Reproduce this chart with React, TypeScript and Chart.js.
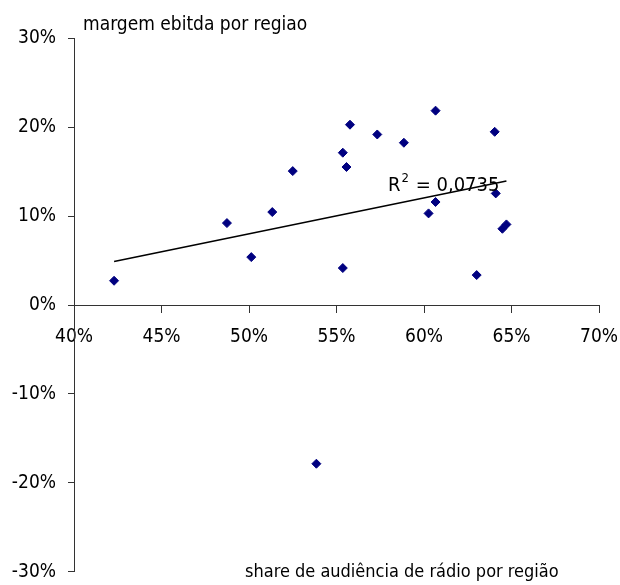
import React, { useEffect, useRef } from "react";
import { Chart, registerables } from "chart.js";

Chart.register(...registerables);

// share de audiência de rádio por região (%)
const shareAudiencia: number[] = [
  42.29, 48.74, 50.13, 51.33, 52.5, 53.85, 55.36, 55.57, 55.77, 55.36,
  57.33, 58.85, 60.66, 60.66, 60.26, 63.01, 64.04, 64.1, 64.48, 64.71,
];
// margem ebitda por região (%)
const margemEbitda: number[] = [
  2.74, 9.23, 5.4, 10.47, 15.08, -17.85, 17.15, 15.54, 20.3, 4.17,
  19.2, 18.27, 21.88, 11.6, 10.32, 3.38, 19.5, 12.57, 8.59, 9.08,
];

const xTicks: number[] = [40, 45, 50, 55, 60, 65, 70];
const yTicks: number[] = [-30, -20, -10, 0, 10, 20, 30];
const r2Text = "0,0735";

const yTitle = "margem ebitda por regiao";
const xTitle = "share de audiência de rádio por região";

const FONT = "'DejaVu Sans Condensed', 'DejaVu Sans', sans-serif";
const FONT_SIZE = 19;

function regression(xs: number[], ys: number[]) {
  const n = xs.length;
  const mx = xs.reduce((a, b) => a + b, 0) / n;
  const my = ys.reduce((a, b) => a + b, 0) / n;
  let sxy = 0;
  let sxx = 0;
  for (let i = 0; i < n; i++) {
    sxy += (xs[i] - mx) * (ys[i] - my);
    sxx += (xs[i] - mx) * (xs[i] - mx);
  }
  const b = sxy / sxx;
  const a = my - b * mx;
  return { a, b };
}

const zeroPad = (s: any) => {
  s.paddingLeft = 0;
  s.paddingRight = 0;
  s.paddingTop = 0;
  s.paddingBottom = 0;
};

export default function App() {
  const ref = useRef<HTMLCanvasElement | null>(null);

  useEffect(() => {
    if (!ref.current) return;
    const points = shareAudiencia.map((x, i) => ({ x, y: margemEbitda[i] }));
    const { a, b } = regression(shareAudiencia, margemEbitda);
    const minX = Math.min(...shareAudiencia);
    const maxX = Math.max(...shareAudiencia);
    const trend = [
      { x: minX, y: a + b * minX },
      { x: maxX, y: a + b * maxX },
    ];

    const textPlugin = {
      id: "texts",
      afterDraw(chart: any) {
        const ctx = chart.ctx;
        const ca = chart.chartArea;
        ctx.save();
        ctx.fillStyle = "#000";
        ctx.textBaseline = "alphabetic";
        ctx.textAlign = "left";
        ctx.font = `${FONT_SIZE}px ${FONT}`;
        ctx.fillText(yTitle, ca.left + 9, ca.top - 8.5);
        ctx.font = `18px ${FONT}`;
        ctx.fillText(xTitle, ca.left + 171, ca.bottom + 5.5);

        // R² label near trendline end
        const xs = chart.scales.x;
        const ys = chart.scales.y;
        const ex = xs.getPixelForValue(trend[1].x);
        const ey = ys.getPixelForValue(trend[1].y);
        const mainFont = `20px ${FONT}`;
        const supFont = `13px ${FONT}`;
        ctx.font = mainFont;
        const wR = ctx.measureText("R").width;
        const wRest = ctx.measureText(" = " + r2Text).width;
        ctx.font = supFont;
        const w2 = ctx.measureText("2").width + 1;
        const total = wR + w2 + wRest;
        const right = ex - 8;
        const base = ey + 10;
        let x0 = right - total;
        ctx.font = mainFont;
        ctx.fillText("R", x0, base);
        x0 += wR + 1;
        ctx.font = supFont;
        ctx.fillText("2", x0, base - 8.5);
        x0 += w2;
        ctx.font = mainFont;
        ctx.fillText(" = " + r2Text, x0, base);
        ctx.restore();
      },
    };

    const chart = new Chart(ref.current, {
      type: "scatter",
      data: {
        datasets: [
          {
            type: "line",
            data: trend,
            borderColor: "#000",
            borderWidth: 1.5,
            pointRadius: 0,
            fill: false,
          } as any,
          {
            data: points,
            pointStyle: "rectRot",
            pointRadius: 4.5,
            backgroundColor: "#000080",
            borderColor: "#000080",
            borderWidth: 1,
          },
        ],
      },
      options: {
        animation: false,
        responsive: true,
        maintainAspectRatio: false,
        layout: { padding: { top: 38.5, bottom: 13.3, right: 21, left: 0 } },
        plugins: {
          legend: { display: false },
          tooltip: { enabled: false },
        },
        scales: {
          x: {
            type: "linear",
            position: { y: 0 } as any,
            min: 40,
            max: 70,
            afterBuildTicks: (s: any) => {
              s.ticks = xTicks.map((v) => ({ value: v }));
            },
            afterFit: zeroPad,
            ticks: {
              callback: (v: any) => `${v}%`,
              color: "#000",
              font: { family: FONT, size: FONT_SIZE },
              padding: 14,
              maxRotation: 0,
              autoSkip: false,
            },
            grid: {
              drawOnChartArea: false,
              drawTicks: true,
              tickLength: 7,
              color: "#333",
            },
            border: { display: true, color: "#333", width: 1 },
          },
          y: {
            type: "linear",
            min: -30,
            max: 30,
            afterBuildTicks: (s: any) => {
              s.ticks = yTicks.map((v) => ({ value: v }));
            },
            afterFit: (s: any) => {
              s.width = 74;
              zeroPad(s);
            },
            ticks: {
              callback: (v: any) => `${v}%`,
              color: "#000",
              font: { family: FONT, size: FONT_SIZE },
              padding: 12,
              autoSkip: false,
            },
            grid: {
              drawOnChartArea: false,
              drawTicks: true,
              tickLength: 6,
              color: "#333",
            },
            border: { display: true, color: "#333", width: 1 },
          },
        },
      },
      plugins: [textPlugin],
    });
    return () => chart.destroy();
  }, []);

  return (
    <div
      style={{
        position: "fixed",
        left: 0,
        top: 0,
        width: 620,
        height: 585,
        background: "#fff",
      }}
    >
      <canvas ref={ref} />
    </div>
  );
}
